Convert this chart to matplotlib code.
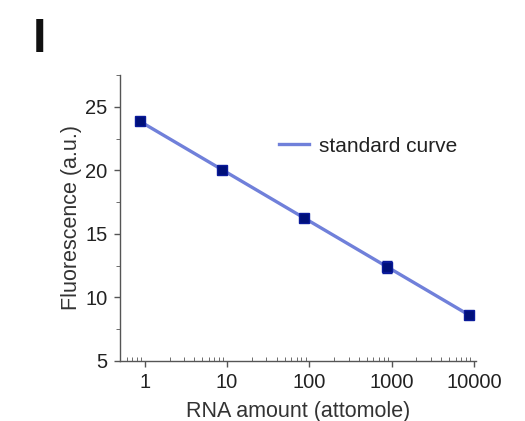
import numpy as np
import matplotlib.pyplot as plt
from matplotlib.ticker import LogLocator, NullFormatter, MultipleLocator

plt.rcParams['font.family'] = ['Liberation Sans', 'DejaVu Sans']

# RNA amount (attomole) and measured fluorescence (a.u.)
rna_amount = [0.87, 8.7, 87, 870, 8700]
fluorescence = [23.9, 20.0, 16.25, 12.4, 8.65]
errors = [0.15, 0.15, 0.15, 0.5, 0.2]
x_ticks = [1, 10, 100, 1000, 10000]
x_tick_labels = ['1', '10', '100', '1000', '10000']
y_ticks = [5, 10, 15, 20, 25]

fig = plt.figure(figsize=(5.25, 4.21), dpi=100)
ax = fig.add_axes([120 / 525, (421 - 361) / 421, (476 - 120) / 525, (361 - 75) / 421])

# Standard curve: linear fit of fluorescence against log10(amount)
slope, intercept = np.polyfit(np.log10(rna_amount), fluorescence, 1)
fit_x = np.array([rna_amount[0], rna_amount[-1]])
fit_y = intercept + slope * np.log10(fit_x)
ax.plot(fit_x, fit_y, color='#7080da', lw=2.4, label='standard curve', zorder=2)

ax.errorbar(rna_amount, fluorescence, yerr=errors, fmt='s', color='#0a1a9a',
            mfc='#00107a', mec='#0a1a9a', ms=6.5, capsize=3.5, elinewidth=1.3,
            zorder=3)

ax.set_xscale('log')
ax.set_xlim(0.5, 10600)
ax.set_ylim(5, 27.5)
ax.set_xticks(x_ticks)
ax.set_xticklabels(x_tick_labels)
ax.xaxis.set_minor_locator(LogLocator(base=10, subs=np.arange(2, 10)))
ax.xaxis.set_minor_formatter(NullFormatter())
ax.set_yticks(y_ticks)
ax.yaxis.set_minor_locator(MultipleLocator(2.5))

for side in ['top', 'right']:
    ax.spines[side].set_visible(False)
for side in ['left', 'bottom']:
    ax.spines[side].set_color('#555555')
    ax.spines[side].set_linewidth(1.0)

ax.tick_params(axis='both', which='major', labelsize=14.5, colors='#555555',
               labelcolor='#222222', length=4, width=1.0, direction='out', pad=5)
ax.tick_params(axis='y', which='minor', length=3, colors='#555555', direction='out')
ax.tick_params(axis='x', which='minor', length=3, colors='#555555', direction='in')

ax.set_xlabel('RNA amount (attomole)', fontsize=15.5, color='#333333', labelpad=6)
ax.set_ylabel('Fluorescence (a.u.)', fontsize=15.5, color='#333333', labelpad=2)

ax.legend(loc='upper right', bbox_to_anchor=(1.0, 0.85), frameon=False,
          fontsize=15, handlelength=1.4, handletextpad=0.5, labelcolor='#222222')

fig.text(33 / 525, 1 - 52 / 421, 'I', fontsize=35, fontweight='bold', color='#111111')

fig.savefig('out.png', dpi=100)
